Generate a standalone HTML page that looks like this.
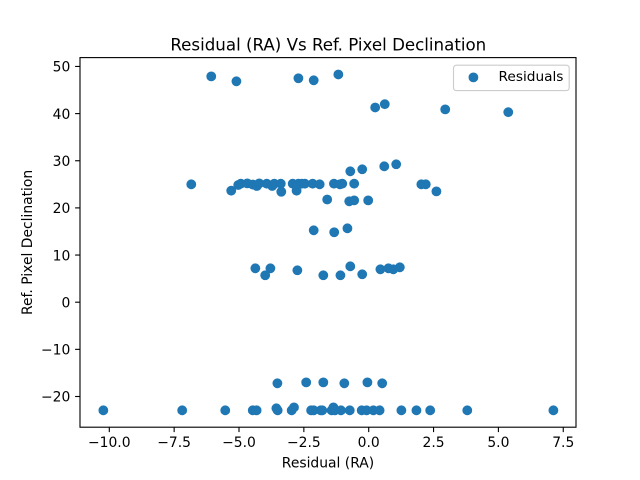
<!DOCTYPE html>
<html>
<head>
<meta charset="utf-8">
<title>Residual (RA) Vs Ref. Pixel Declination</title>
<style>
html,body{margin:0;padding:0;background:#fff;width:640px;height:480px;overflow:hidden}
svg{display:block}
text{font-family:"DejaVu Sans",sans-serif;fill:#000}
</style>
</head>
<body>
<svg id="chart" xmlns="http://www.w3.org/2000/svg" width="640" height="480" viewBox="0 0 640 480">
  <rect x="0" y="0" width="640" height="480" fill="#fff"/>
  <g id="points"></g>
  <g id="xticks"></g>
  <g id="yticks"></g>
  <rect x="80" y="57.6" width="496" height="369.6" fill="none" stroke="#000" stroke-width="1.11"/>
  <text x="328.3" y="50.5" font-size="16.67" text-anchor="middle">Residual (RA) Vs Ref. Pixel Declination</text>
  <text x="328" y="467.7" font-size="13.89" text-anchor="middle">Residual (RA)</text>
  <text transform="translate(31.8,242.4) rotate(-90)" font-size="13.89" text-anchor="middle">Ref. Pixel Declination</text>
  <g>
    <rect x="453.5" y="65.2" width="115.7" height="25.4" rx="2.8" ry="2.8" fill="#fff" fill-opacity="0.8" stroke="#ccc" stroke-width="1.11"/>
    <circle cx="473.4" cy="77.4" r="4.9" fill="#1f77b4"/>
    <text x="498.5" y="81" font-size="13.7">Residuals</text>
  </g>
</svg>
<script>
const xTickValues = [-10, -7.5, -5, -2.5, 0, 2.5, 5, 7.5];
const xTickLabels = ['\u221210.0', '\u22127.5', '\u22125.0', '\u22122.5', '0.0', '2.5', '5.0', '7.5'];
const yTickValues = [-20, -10, 0, 10, 20, 30, 40, 50];
const yTickLabels = ['\u221220', '\u221210', '0', '10', '20', '30', '40', '50'];
const residualRA = [
  -6.07, -5.10, -2.71, -2.12, -1.17, 0.25, 0.62, 2.95, 5.38,
  -6.84, -5.30, -5.03, -4.93, -4.68, -4.47, -4.31, -4.22, -3.93, -3.72, -3.64, -3.39, -3.37,
  -2.93, -2.78, -2.71, -2.58, -2.46, -2.16, -1.89, -1.34, -1.11, -1.02, -0.56,
  -0.71, -0.25, 0.60, 1.06, 2.03, 2.20, 2.61,
  -1.60, -0.75, -0.56, -0.02, -2.12, -1.33, -0.82,
  -4.37, -3.79, -3.99, -2.75, -1.75, -1.09, -0.71, -0.25, 0.45, 0.76, 0.95, 1.20,
  -3.52, -2.41, -1.75, -0.94, -0.05, 0.52,
  -10.23, -7.19, -5.53, -4.47, -4.32, -3.56, -3.51, -2.97, -2.88, -2.22, -2.12, -1.85, -1.79,
  -1.43, -1.36, -1.30, -1.07, -0.73, -0.27, -0.08, 0.18, 0.42, 1.26, 1.84, 2.37, 3.80, 7.12
];
const pixelDeclination = [
  47.9, 46.85, 47.5, 47.06, 48.3, 41.3, 42.0, 40.9, 40.3,
  25.0, 23.65, 24.86, 25.13, 25.2, 24.95, 24.64, 25.2, 25.13, 24.64, 25.13, 25.13, 23.43,
  25.13, 23.65, 25.13, 25.13, 25.13, 25.13, 25.0, 25.13, 25.0, 25.13, 25.13,
  27.76, 28.19, 28.82, 29.25, 25.0, 25.0, 23.5,
  21.78, 21.4, 21.6, 21.6, 15.25, 14.83, 15.67,
  7.19, 7.19, 5.71, 6.77, 5.71, 5.71, 7.61, 5.92, 6.98, 7.19, 6.98, 7.40,
  -17.2, -17.0, -17.0, -17.2, -17.0, -17.2,
  -22.93, -22.93, -22.93, -22.93, -22.93, -22.5, -22.93, -22.93, -22.3, -22.93, -22.93, -22.93, -22.93,
  -22.93, -22.3, -22.93, -22.93, -22.93, -22.93, -22.93, -22.93, -22.93, -22.93, -22.93, -22.93, -22.93, -22.93
];

const SVG_NS = 'http://www.w3.org/2000/svg';
function xScale(v) { return 368.7 + v * 25.94; }
function yScale(v) { return 302.2 - v * 4.715; }

const pointsGroup = document.getElementById('points');
residualRA.forEach(function (rx, i) {
  const c = document.createElementNS(SVG_NS, 'circle');
  c.setAttribute('cx', xScale(rx));
  c.setAttribute('cy', yScale(pixelDeclination[i]));
  c.setAttribute('r', 4.9);
  c.setAttribute('fill', '#1f77b4');
  
  
  pointsGroup.appendChild(c);
});

const xTicksGroup = document.getElementById('xticks');
xTickValues.forEach(function (v, i) {
  const x = xScale(v);
  const t = document.createElementNS(SVG_NS, 'line');
  t.setAttribute('x1', x);
  t.setAttribute('x2', x);
  t.setAttribute('y1', 427.2);
  t.setAttribute('y2', 432.1);
  t.setAttribute('stroke', '#000');
  t.setAttribute('stroke-width', 1.11);
  
  
  xTicksGroup.appendChild(t);
  const l = document.createElementNS(SVG_NS, 'text');
  l.setAttribute('x', x);
  l.setAttribute('y', 447);
  l.setAttribute('font-size', 13.89);
  l.setAttribute('text-anchor', 'middle');
  
  
  l.textContent = xTickLabels[i];
  xTicksGroup.appendChild(l);
});

const yTicksGroup = document.getElementById('yticks');
yTickValues.forEach(function (v, i) {
  const y = yScale(v);
  const t = document.createElementNS(SVG_NS, 'line');
  t.setAttribute('x1', 75.1);
  t.setAttribute('x2', 80);
  t.setAttribute('y1', y);
  t.setAttribute('y2', y);
  t.setAttribute('stroke', '#000');
  t.setAttribute('stroke-width', 1.11);
  
  
  yTicksGroup.appendChild(t);
  const l = document.createElementNS(SVG_NS, 'text');
  l.setAttribute('x', 70.3);
  l.setAttribute('y', y + 5.2);
  l.setAttribute('font-size', 13.89);
  l.setAttribute('text-anchor', 'end');
  
  
  l.textContent = yTickLabels[i];
  yTicksGroup.appendChild(l);
});
</script>
</body>
</html>
